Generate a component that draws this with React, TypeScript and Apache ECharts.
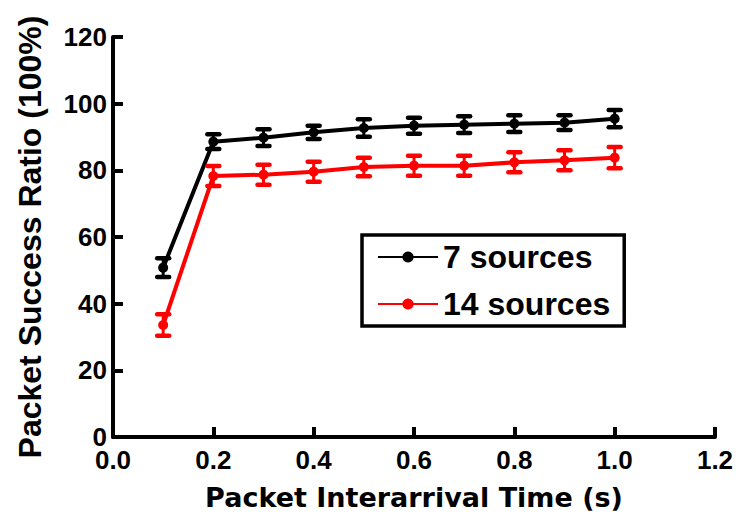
import React, { useEffect, useRef } from "react";
import * as echarts from "echarts";

const xValues = [0.1, 0.2, 0.3, 0.4, 0.5, 0.6, 0.7, 0.8, 0.9, 1.0];
const sevenMean = [50.8, 88.6, 89.8, 91.4, 92.7, 93.4, 93.7, 94.0, 94.3, 95.5];
const sevenErr = [2.8, 2.2, 2.5, 2.0, 2.6, 2.4, 2.5, 2.5, 2.2, 2.6];
const fourteenMean = [33.6, 78.3, 78.7, 79.6, 81.0, 81.4, 81.4, 82.4, 83.0, 83.8];
const fourteenErr = [3.2, 3.0, 3.0, 3.0, 2.8, 3.0, 3.0, 3.0, 3.0, 3.2];
const seriesNames = ["7 sources", "14 sources"];
const colors = ["#000000", "#ff0000"];

const FONT = "Liberation Sans, Arial, sans-serif";

function errorSeries(means: number[], errs: number[], color: string) {
  return {
    type: "custom",
    name: color + "-err",
    silent: true,
    z: 5,
    data: xValues.map((x, i) => [x, means[i] - errs[i], means[i] + errs[i]]),
    renderItem: (params: any, api: any) => {
      const lo = api.coord([api.value(0), api.value(1)]);
      const hi = api.coord([api.value(0), api.value(2)]);
      const hw = 6;
      const style = { stroke: color, lineWidth: 4.5, lineCap: "round" };
      return {
        type: "group",
        children: [
          { type: "line", shape: { x1: lo[0], y1: lo[1], x2: hi[0], y2: hi[1] }, style: { stroke: color, lineWidth: 3 } },
          { type: "line", shape: { x1: lo[0] - hw, y1: lo[1], x2: lo[0] + hw, y2: lo[1] }, style },
          { type: "line", shape: { x1: hi[0] - hw, y1: hi[1], x2: hi[0] + hw, y2: hi[1] }, style },
        ],
      };
    },
  };
}

export default function App() {
  const ref = useRef<HTMLDivElement>(null);
  useEffect(() => {
    document.body.style.margin = "0";
    if (!ref.current) return;
    const chart = echarts.init(ref.current, null, { renderer: "svg" });
    chart.setOption({
      animation: false,
      backgroundColor: "#ffffff",
      grid: { left: 113, right: 21, top: 37, bottom: 87, containLabel: false, outerBoundsMode: "none" },
      legend: {
        data: seriesNames,
        orient: "vertical",
        left: 362,
        top: 235,
        itemWidth: 60,
        itemHeight: 14,
        itemGap: 9,
        padding: [3, 14, 3, 15],
        borderColor: "#000",
        borderWidth: 3.5,
        textStyle: { fontFamily: FONT, fontWeight: "bold", fontSize: 32, lineHeight: 38, color: "#000" },
      },
      xAxis: {
        type: "value",
        min: 0,
        max: 1.2,
        interval: 0.2,
        name: "Packet Interarrival Time (s)",
        nameLocation: "middle",
        nameGap: 47,
        nameTextStyle: { fontFamily: "DejaVu Sans, sans-serif", fontWeight: "bold", fontSize: 27, color: "#000" },
        splitLine: { show: false },
        axisLine: { lineStyle: { color: "#000", width: 4 } },
        axisTick: { inside: true, length: 10, lineStyle: { color: "#000", width: 4 } },
        axisLabel: {
          fontFamily: FONT,
          fontWeight: "bold",
          fontSize: 26,
          color: "#000",
          margin: 10,
          formatter: (v: number) => v.toFixed(1),
        },
      },
      yAxis: {
        type: "value",
        min: 0,
        max: 120,
        interval: 20,
        name: "Packet Success Ratio (100%)",
        nameLocation: "middle",
        nameGap: 67,
        nameTextStyle: { fontFamily: FONT, fontWeight: "bold", fontSize: 32, color: "#000" },
        splitLine: { show: false },
        axisLine: { show: true, lineStyle: { color: "#000", width: 4 } },
        axisTick: { show: true, inside: true, length: 10, lineStyle: { color: "#000", width: 4 } },
        axisLabel: { fontFamily: FONT, fontWeight: "bold", fontSize: 26, color: "#000", margin: 6 },
      },
      series: [
        {
          type: "line",
          name: seriesNames[0],
          data: xValues.map((x, i) => [x, sevenMean[i]]),
          symbol: "circle",
          symbolSize: 10,
          itemStyle: { color: colors[0] },
          lineStyle: { color: colors[0], width: 4 },
          z: 4,
        },
        {
          type: "line",
          name: seriesNames[1],
          data: xValues.map((x, i) => [x, fourteenMean[i]]),
          symbol: "circle",
          symbolSize: 10,
          itemStyle: { color: colors[1] },
          lineStyle: { color: colors[1], width: 4 },
          z: 4,
        },
        errorSeries(sevenMean, sevenErr, colors[0]),
        errorSeries(fourteenMean, fourteenErr, colors[1]),
      ],
    });
    return () => chart.dispose();
  }, []);
  return <div ref={ref} style={{ width: 736, height: 524 }} />;
}
